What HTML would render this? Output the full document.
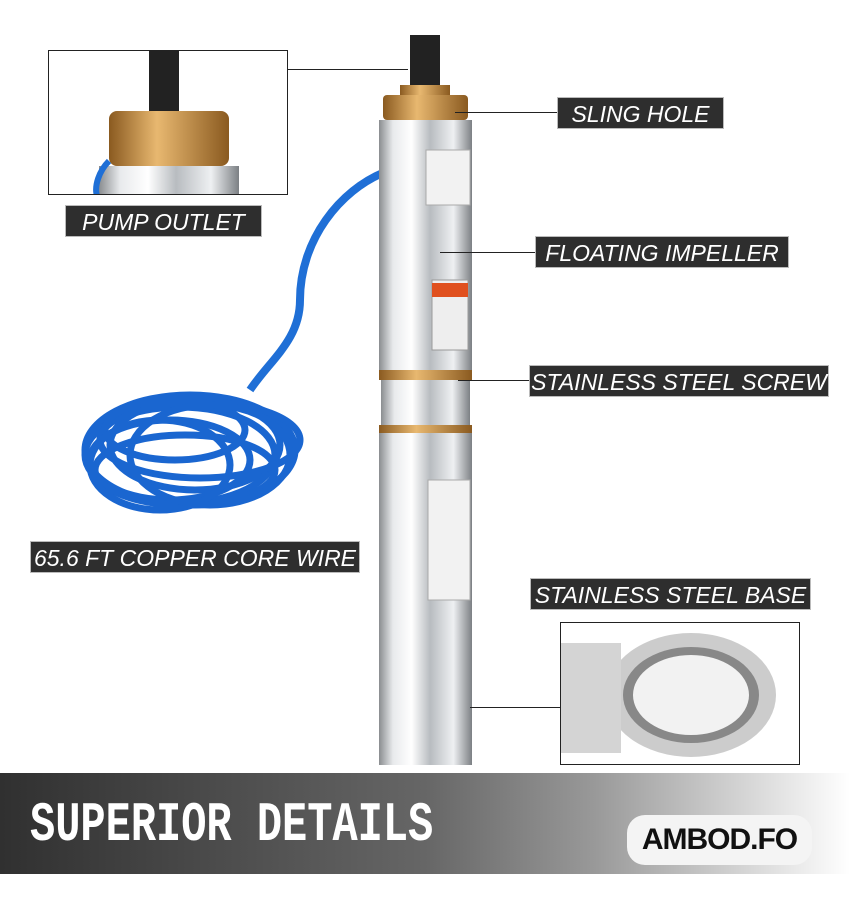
<!DOCTYPE html>
<html><head><style>
body{margin:0;width:850px;height:900px;background:#fff;position:relative;overflow:hidden;font-family:"Liberation Sans",sans-serif}
.lbl{position:absolute;background:#2e2e2e;color:#fff;font-style:italic;font-size:23px;height:32px;line-height:32px;text-align:center;border:1px solid #bbb;box-sizing:border-box;letter-spacing:0px}
.box{position:absolute;border:1.5px solid #222;background:#fff;box-sizing:border-box;overflow:hidden}
.ln{position:absolute;background:#222}
</style></head><body>
<svg width="850" height="900" style="position:absolute;left:0;top:0">
<defs>
<linearGradient id="st" x1="0" x2="1"><stop offset="0" stop-color="#8a8d90"/><stop offset=".15" stop-color="#e8eaec"/><stop offset=".35" stop-color="#fff"/><stop offset=".55" stop-color="#b8bcc0"/><stop offset=".8" stop-color="#eef0f2"/><stop offset="1" stop-color="#7c8084"/></linearGradient>
<linearGradient id="br" x1="0" x2="1"><stop offset="0" stop-color="#8a5a20"/><stop offset=".4" stop-color="#e8b870"/><stop offset="1" stop-color="#8a5a20"/></linearGradient>
</defs>
<path d="M385 172 C340 190 300 240 300 300 C300 340 270 360 250 390" stroke="#1f6fd6" stroke-width="8" fill="none"/>
<g stroke="#1a66d0" stroke-width="7" fill="none">
<ellipse cx="190" cy="450" rx="105" ry="55"/><ellipse cx="180" cy="455" rx="95" ry="48"/><ellipse cx="195" cy="445" rx="85" ry="45"/><ellipse cx="170" cy="460" rx="80" ry="40"/><ellipse cx="200" cy="440" rx="100" ry="38"/><ellipse cx="185" cy="470" rx="90" ry="35"/><ellipse cx="175" cy="430" rx="70" ry="30"/><ellipse cx="160" cy="465" rx="70" ry="45"/><ellipse cx="210" cy="455" rx="80" ry="50"/>
</g>
<rect x="410" y="35" width="30" height="55" fill="#222"/>
<rect x="400" y="85" width="50" height="12" fill="url(#br)"/>
<rect x="383" y="95" width="85" height="25" rx="4" fill="url(#br)"/>
<rect x="379" y="120" width="93" height="250" fill="url(#st)"/>
<rect x="379" y="370" width="93" height="10" fill="url(#br)"/>
<rect x="381" y="380" width="89" height="45" fill="url(#st)"/>
<rect x="379" y="425" width="93" height="8" fill="url(#br)"/>
<rect x="379" y="433" width="93" height="212" fill="url(#st)"/>
<rect x="379" y="645" width="93" height="120" fill="url(#st)"/>
<rect x="432" y="280" width="36" height="70" fill="#eee" stroke="#999"/>
<rect x="432" y="283" width="36" height="14" fill="#e0501e"/>
<rect x="428" y="480" width="42" height="120" fill="#f2f2f2" stroke="#aaa"/>
<rect x="426" y="150" width="44" height="55" fill="#f2f2f2" stroke="#aaa"/>
</svg>
<div class="box" style="left:48px;top:50px;width:240px;height:145px">
<svg width="240" height="145"><rect x="100" y="0" width="30" height="60" fill="#222"/><rect x="60" y="60" width="120" height="55" rx="8" fill="url(#br)"/><rect x="50" y="115" width="140" height="35" fill="url(#st)"/><path d="M60 110 C50 120 45 135 48 145" stroke="#1f6fd6" stroke-width="6" fill="none"/></svg>
</div>
<div class="ln" style="left:288px;top:69px;width:120px;height:1px"></div>
<div class="box" style="left:560px;top:622px;width:240px;height:143px">
<svg width="240" height="143"><ellipse cx="130" cy="72" rx="85" ry="62" fill="#ccc"/><ellipse cx="130" cy="72" rx="68" ry="48" fill="#888"/><ellipse cx="130" cy="72" rx="58" ry="40" fill="#f2f2f2"/><rect x="0" y="20" width="60" height="110" fill="#d4d4d4"/></svg>
</div>
<div class="ln" style="left:470px;top:707px;width:90px;height:1px"></div>
<div class="ln" style="left:455px;top:112px;width:102px;height:1px"></div>
<div class="ln" style="left:440px;top:252px;width:95px;height:1px"></div>
<div class="ln" style="left:458px;top:380px;width:71px;height:1px"></div>
<div class="lbl" style="left:65px;top:205px;width:197px">PUMP OUTLET</div>
<div class="lbl" style="left:557px;top:97px;width:167px">SLING HOLE</div>
<div class="lbl" style="left:535px;top:236px;width:254px">FLOATING IMPELLER</div>
<div class="lbl" style="left:529px;top:365px;width:300px">STAINLESS STEEL SCREW</div>
<div class="lbl" style="left:530px;top:578px;width:281px">STAINLESS STEEL BASE</div>
<div class="lbl" style="left:30px;top:541px;width:330px">65.6 FT COPPER CORE WIRE</div>
<div style="position:absolute;left:0;top:773px;width:850px;height:101px;background:linear-gradient(90deg,#303030 0%,#666 50%,#999 70%,#fff 100%)"></div>
<div style="position:absolute;left:30px;top:794px;font-family:'Liberation Mono',monospace;font-weight:bold;font-size:42px;color:#fff;transform:scaleY(1.32);transform-origin:top left">SUPERIOR DETAILS</div>
<div style="position:absolute;left:627px;top:815px;width:185px;height:50px;border-radius:18px;background:#f4f4f4;text-align:center;line-height:50px;font-weight:900;font-size:30px;color:#111;letter-spacing:-1px">AMBOD.FO</div>
</body></html>
